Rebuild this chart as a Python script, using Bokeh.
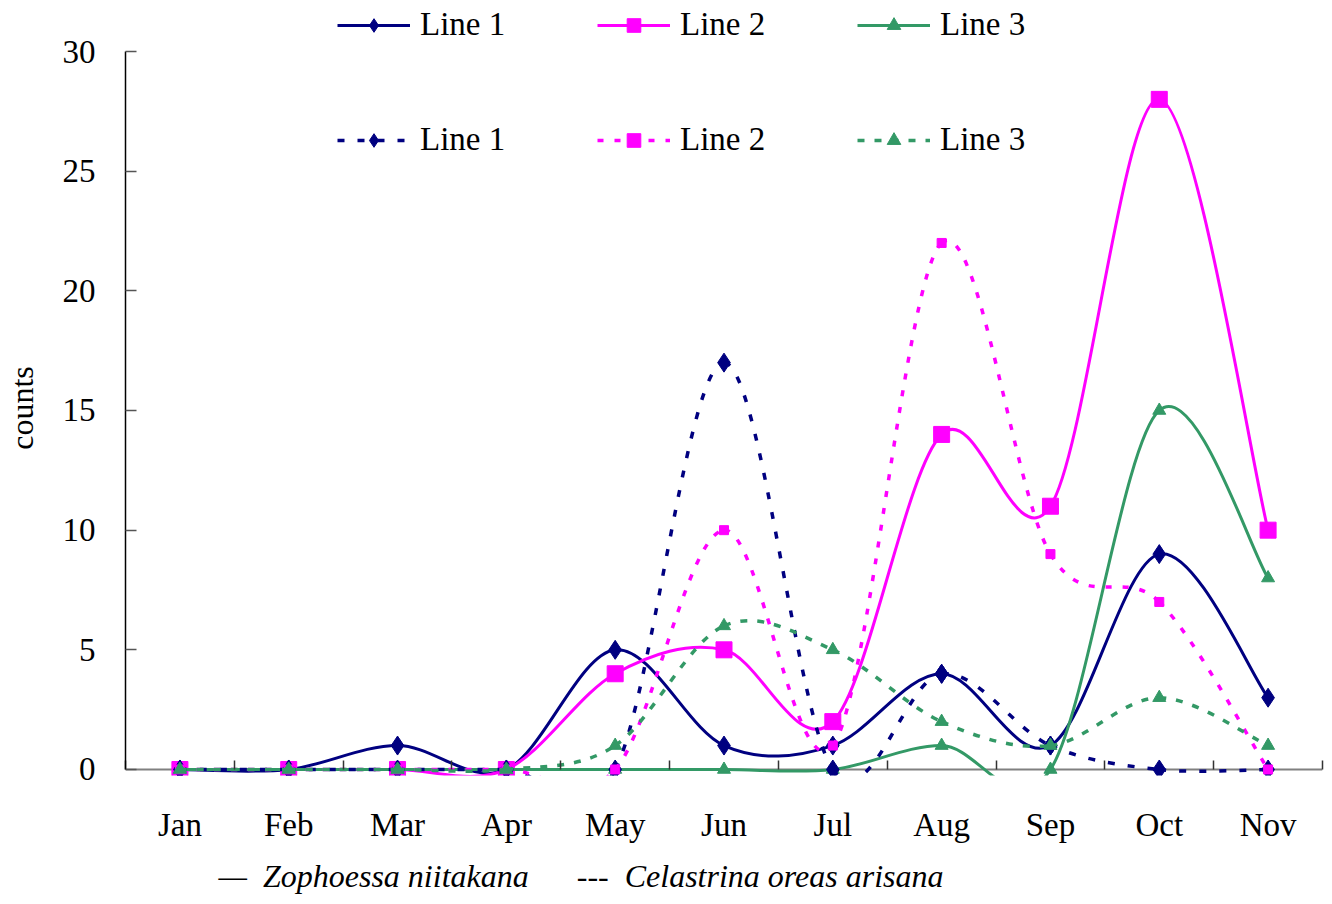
import numpy as np
from bokeh.plotting import figure
from bokeh.models import Range1d, FixedTicker, Span, Legend, LegendItem, Title
from bokeh.embed import file_html
from bokeh.resources import INLINE

# Monthly counts for the two species
months = ["Jan", "Feb", "Mar", "Apr", "May", "Jun", "Jul", "Aug", "Sep", "Oct", "Nov"]
zoph_line1 = [0, 0, 1, 0, 5, 1, 1, 4, 1, 9, 3]
zoph_line2 = [0, 0, 0, 0, 4, 5, 2, 14, 11, 28, 10]
zoph_line3 = [0, 0, 0, 0, 0, 0, 0, 1, 0, 15, 8]
cel_line1 = [0, 0, 0, 0, 0, 17, 0, 4, 1, 0, 0]
cel_line2 = [0, 0, 0, 0, 0, 10, 1, 22, 9, 7, 0]
cel_line3 = [0, 0, 0, 0, 1, 6, 5, 2, 1, 3, 1]
y_ticks = [0, 5, 10, 15, 20, 25, 30]

FONT = "Liberation Serif"
NAVY, MAGENTA, GREEN = "#000080", "#FF00FF", "#339966"
NBSP = "\u00a0"

n = len(months)
xs = np.arange(n, dtype=float)

# the plotting area reaches the top edge so both legend rows fit inside it;
# the value axis itself only spans 0..30
p = figure(width=1332, height=904, output_backend="svg", toolbar_location=None,
           x_range=Range1d(-0.5, n - 0.5), y_range=Range1d(-0.251, 32.131),
           min_border_left=125, min_border_right=10, min_border_top=0,
           min_border_bottom=127)
p.outline_line_color = None
p.grid.visible = False
p.background_fill_color = "white"
p.border_fill_color = "white"

# x axis: month names centred in each slot, small tick marks on slot borders
p.xaxis.ticker = FixedTicker(ticks=list(xs), minor_ticks=list(np.arange(n + 1) - 0.5))
p.xaxis.major_label_overrides = {i: m for i, m in enumerate(months)}
p.xaxis.axis_line_color = None
p.xaxis.major_tick_line_color = None
p.xaxis.minor_tick_line_color = "#333333"
p.xaxis.minor_tick_line_width = 1.5
p.xaxis.minor_tick_in = 15
p.xaxis.minor_tick_out = -6
p.xaxis.major_label_text_font = FONT
p.xaxis.major_label_text_font_size = "33px"
p.xaxis.major_label_text_color = "black"
p.xaxis.major_label_standoff = 25

baseline = Span(location=0, dimension="width", line_color="#808080", line_width=2, level="underlay")
p.add_layout(baseline)

# y axis
p.yaxis.ticker = FixedTicker(ticks=y_ticks, minor_ticks=[])
p.yaxis.bounds = (y_ticks[0], y_ticks[-1])
p.yaxis.axis_line_color = "black"
p.yaxis.axis_line_width = 1.5
p.yaxis.major_tick_in = 11
p.yaxis.major_tick_out = 0
p.yaxis.major_tick_line_color = "#555555"
p.yaxis.major_tick_line_width = 1.5
p.yaxis.major_label_text_font = FONT
p.yaxis.major_label_text_font_size = "33px"
p.yaxis.major_label_text_color = "black"
p.yaxis.major_label_standoff = 30
# trailing blanks keep the label centred on the 0..30 span rather than the whole frame
p.yaxis.axis_label = "counts" + NBSP * 5
p.yaxis.axis_label_text_font = FONT
p.yaxis.axis_label_text_font_size = "32px"
p.yaxis.axis_label_text_font_style = "normal"
p.yaxis.axis_label_text_color = "black"
p.yaxis.axis_label_standoff = 20


def smooth_segments(vals):
    """Cubic Bezier pieces between consecutive points (Catmull-Rom style tangents)."""
    y = np.asarray(vals, dtype=float)
    x = np.arange(len(y), dtype=float)
    px, py = np.r_[x[0], x[:-1]], np.r_[y[0], y[:-1]]
    nx, ny = np.r_[x[1:], x[-1]], np.r_[y[1:], y[-1]]
    tx, ty = (nx - px) / 6.0, (ny - py) / 6.0
    return dict(x0=x[:-1], y0=y[:-1], x1=x[1:], y1=y[1:],
                cx0=x[:-1] + tx[:-1], cy0=y[:-1] + ty[:-1],
                cx1=x[1:] - tx[1:], cy1=y[1:] - ty[1:])


series = [
    # values, colour, dash, width, marker, size, label, row
    (zoph_line1, NAVY, "solid", 3, "diamond", 19, "Line 1", 0),
    (zoph_line2, MAGENTA, "solid", 3, "square", 16, "Line 2", 0),
    (zoph_line3, GREEN, "solid", 3, "triangle", 13, "Line 3", 0),
    (cel_line1, NAVY, "7 13", 3.5, "diamond", 19, "Line 1", 1),
    (cel_line2, MAGENTA, "6 11", 3.5, "square", 9, "Line 2", 1),
    (cel_line3, GREEN, "7 10", 3.5, "triangle", 13, "Line 3", 1),
]

rows = [[], []]
for vals, color, dash, lw, marker, size, label, row in series:
    seg = smooth_segments(vals)
    curve = p.bezier(line_color=color, line_width=lw, line_dash=dash, **seg)
    pts = p.scatter(xs, vals, marker=marker, size=size,
                    fill_color=color, line_color=color)
    rows[row].append(LegendItem(label=label, renderers=[curve, pts]))

# two legend rows: solid (Zophoessa) on top, dashed (Celastrina) below
for row, items in enumerate(rows):
    leg = Legend(items=items, location=(212, 732 - 115 * row),
                 orientation="horizontal", glyph_width=73, glyph_height=34,
                 label_standoff=10, label_width=100, spacing=77, padding=0,
                 margin=0, border_line_color=None, background_fill_alpha=0,
                 label_text_font=FONT, label_text_font_size="33px",
                 label_text_color="black")
    p.add_layout(leg)

# species key under the month labels
key_text = ("—" + NBSP * 2 + "Zophoessa niitakana" + NBSP * 6 + "---" + NBSP * 2
            + "Celastrina oreas arisana")
key = Title(text=key_text, align="left", offset=93, standoff=21,
            text_font=FONT, text_font_style="italic", text_font_size="32px",
            text_color="black")
p.add_layout(key, "below")

open("out.html", "w").write(file_html(p, INLINE))
